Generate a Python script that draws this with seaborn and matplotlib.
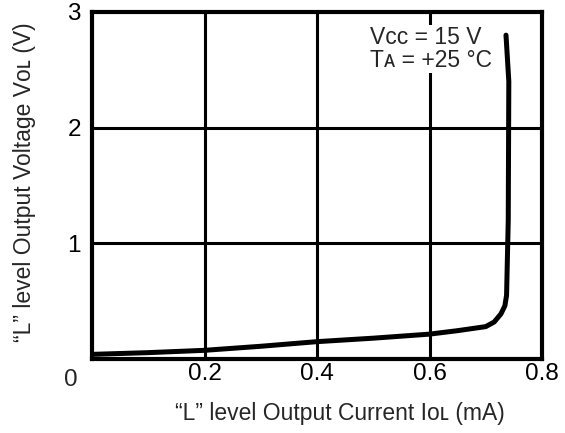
import matplotlib
matplotlib.use("Agg")
import matplotlib.pyplot as plt
import seaborn as sns
import pandas as pd

# "L" level output current (mA) vs output voltage (V)
current_ma = [0.0, 0.1, 0.2, 0.3, 0.4, 0.5, 0.6, 0.65, 0.7, 0.715, 0.727, 0.734, 0.737, 0.74, 0.741, 0.736]
voltage_v = [0.04, 0.055, 0.075, 0.11, 0.15, 0.18, 0.215, 0.245, 0.28, 0.32, 0.39, 0.46, 0.55, 1.2, 2.4, 2.8]

x_ticks = [0.2, 0.4, 0.6, 0.8]
x_tick_labels = ["0.2", "0.4", "0.6", "0.8"]
y_ticks = [1, 2, 3]
y_tick_labels = ["1", "2", "3"]

x_label = "\u201cL\u201d level Output Current I\u1d0f\u029f (mA)"
y_label = "\u201cL\u201d level Output Voltage V\u1d0f\u029f (V)"
conditions = "V\u1d04\u1d04 = 15 V\nT\u1d00 = +25 \u00b0C"

df = pd.DataFrame({"IOL": current_ma, "VOL": voltage_v})

sns.set_theme(style="white")
plt.rcParams["font.family"] = ["Liberation Sans", "DejaVu Sans"]

fig = plt.figure(figsize=(5.65, 4.33), dpi=100)
ax = fig.add_axes([92 / 565, 1 - 359 / 433, 450 / 565, 347 / 433])

sns.lineplot(data=df, x="IOL", y="VOL", ax=ax, sort=False, estimator=None,
             color="black", linewidth=3.6, zorder=4)
ax.lines[-1].set_solid_joinstyle("round")

ax.set_xlim(0, 0.8)
ax.set_ylim(0, 3)
ax.set_xticks(x_ticks, x_tick_labels)
ax.set_yticks(y_ticks, y_tick_labels)
ax.tick_params(axis="both", length=0, labelsize=17.5, colors="black")
ax.tick_params(axis="x", pad=3)
ax.tick_params(axis="y", pad=8)

# grid lines inside the frame
for gx in [0.2, 0.4, 0.6]:
    ax.axvline(gx, color="black", linewidth=2.2, zorder=2)
for gy in [1, 2]:
    ax.axhline(gy, color="black", linewidth=2.2, zorder=2)

for side in ax.spines.values():
    side.set_color("black")
    side.set_linewidth(3)
    side.set_zorder(5)

# shared origin label at the corner
ax.text(-0.048, -0.06, "0", transform=ax.transAxes, fontsize=17.5,
        ha="center", va="center")

ax.text(0.495, 2.68, conditions, fontsize=16.5, ha="left", va="center",
        linespacing=1.0, zorder=3,
        bbox=dict(facecolor="white", edgecolor="none", pad=1))

ax.set_xlabel(x_label, fontsize=16.5)
ax.set_ylabel(y_label, fontsize=16.5)
ax.xaxis.set_label_coords(0.55, -0.125)
ax.yaxis.set_label_coords(-0.125, 0.51)

fig.savefig("out.png", dpi=100)
